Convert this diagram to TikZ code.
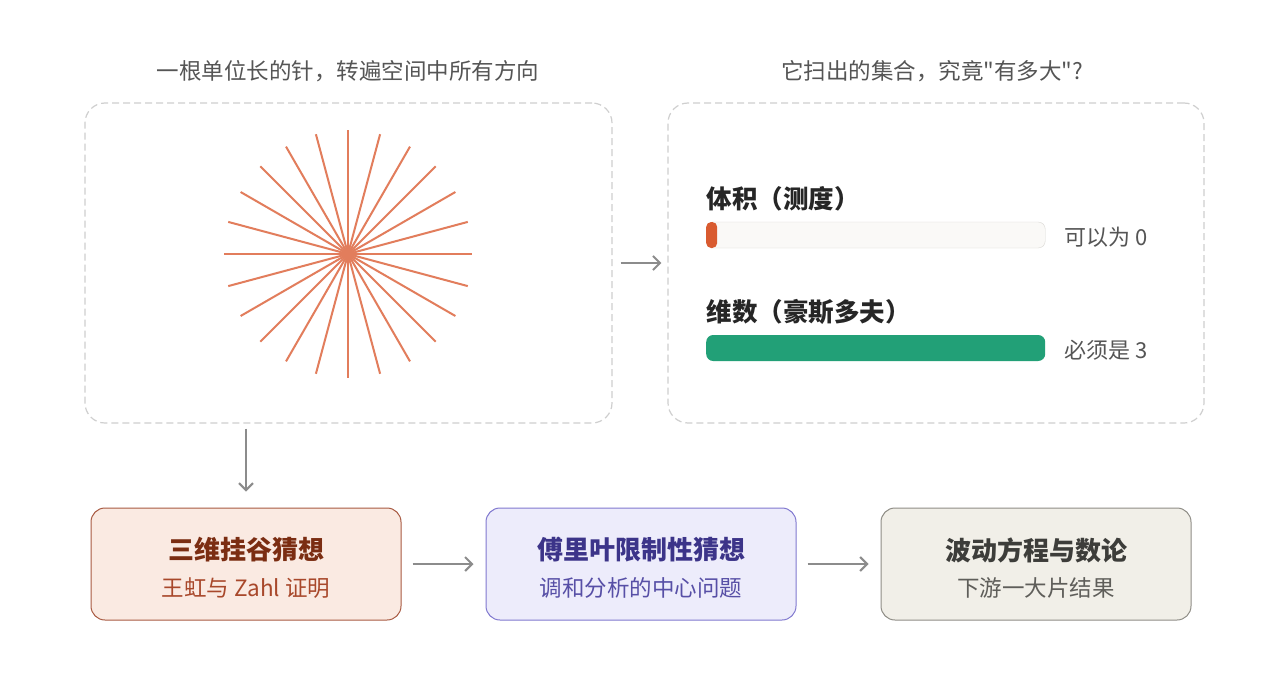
\documentclass[tikz,border=0pt]{standalone}
\usepackage{fontspec}
\setmainfont{Noto Sans CJK SC}
\usepackage{xcolor}
\usepackage{tikz}
\usetikzlibrary{arrows.meta,positioning}
\definecolor{rayorange}{HTML}{E27D5C}
\definecolor{flowgray}{HTML}{8C8C8C}
\definecolor{dashgray}{HTML}{CFCFCF}
\definecolor{capgray}{HTML}{555555}
\definecolor{trackfill}{HTML}{FAF9F7}
\definecolor{trackline}{HTML}{D9D7D3}
\definecolor{volred}{HTML}{D95B30}
\definecolor{dimgreen}{HTML}{22A077}
\definecolor{kkfill}{HTML}{FAEAE2}
\definecolor{kkline}{HTML}{A85A42}
\definecolor{kktext}{HTML}{7B2D12}
\definecolor{kksub}{HTML}{A8482B}
\definecolor{frfill}{HTML}{EDECFB}
\definecolor{frline}{HTML}{8078CF}
\definecolor{frtext}{HTML}{3C3489}
\definecolor{frsub}{HTML}{574FA6}
\definecolor{dsfill}{HTML}{F1EFE8}
\definecolor{dsline}{HTML}{8F8D86}
\definecolor{dstext}{HTML}{3D3D3A}
\definecolor{dssub}{HTML}{5F5E5A}
\newcommand{\fsz}[1]{\fontsize{#1}{#1}\selectfont}

\begin{document}
\begin{tikzpicture}[x=1pt,y=-1pt,
    panel/.style={draw=dashgray,line width=1.2pt,dash pattern=on 7pt off 4pt,rounded corners=20pt,
                  minimum width=#1,minimum height=320pt,inner sep=0pt},
    caption/.style={text=capgray,font=\fsz{22.5}},
    ray/.style={rayorange,line width=2pt},
    flow/.style={flowgray,line width=2pt,-{Straight Barb[length=7pt,width=14pt,line width=2pt]}},
    track/.style={anchor=west,minimum width=339pt,minimum height=26pt,inner sep=0pt,rounded corners=7pt},
    barlabel/.style={anchor=west,text=black!85,font=\fsz{25.5}\bfseries},
    barnote/.style={anchor=west,text=capgray,font=\fsz{22}},
    stage/.style={draw=#1line,fill=#1fill,line width=1pt,rounded corners=14pt,
                  minimum width=310pt,minimum height=112pt,inner sep=0pt},
  ]
  \useasboundingbox[fill=white] (0,0) rectangle (1280,696);
  % top row: the needle and what it sweeps out
  \node[caption] (lcap) at (348,71) {一根单位长的针，转遍空间中所有方向};
  \node[caption] (rcap) at (932,71) {它扫出的集合，究竟\textquotedbl 有多大\textquotedbl ?};
  \node[panel=527pt] (needle) at (348.5,263) {};
  \node[panel=536pt] (sizes) at (936,263) {};
  \coordinate (hub) at (348,254);
  \foreach \a in {0,15,...,345}
    \draw[ray] (hub) -- ++(\a:124);
  % volume vs. dimension
  \node[barlabel] (vollab) at (703,199) {体积（测度）};
  \node[track,draw=trackline,fill=trackfill] (voltrack) at (706,235) {};
  \node[track,fill=volred,minimum width=11pt,rounded corners=5pt] (volbar) at (voltrack.west) {};
  \node[barnote] (volnote) at (1061,237) {可以为 0};
  \node[barlabel] (dimlab) at (703,312) {维数（豪斯多夫）};
  \node[track,fill=dimgreen] (dimbar) at (706,348) {};
  \node[barnote] (dimnote) at (1061,350) {必须是 3};
  % bottom row: the chain of consequences
  \node[stage=kk] (kakeya) at (246,564) {};
  \node[stage=fr] (fourier) at (641,564) {};
  \node[stage=ds] (downstream) at (1036,564) {};
  \node[text=kktext,font=\fsz{26}\bfseries] (kakeya-t) at ([yshift=14pt]kakeya.center) {三维挂谷猜想};
  \node[text=kksub,font=\fsz{22.5}] (kakeya-s) at ([yshift=-24pt]kakeya.center) {王虹与 Zahl 证明};
  \node[text=frtext,font=\fsz{26}\bfseries] (fourier-t) at ([yshift=14pt]fourier.center) {傅里叶限制性猜想};
  \node[text=frsub,font=\fsz{22.5}] (fourier-s) at ([yshift=-24pt]fourier.center) {调和分析的中心问题};
  \node[text=dstext,font=\fsz{26}\bfseries] (downstream-t) at ([yshift=14pt]downstream.center) {波动方程与数论};
  \node[text=dssub,font=\fsz{22.5}] (downstream-s) at ([yshift=-24pt]downstream.center) {下游一大片结果};
  % arrows
  \draw[flow,shorten <=8pt,shorten >=6pt] (needle) -- (sizes);
  \draw[flow,shorten <=5pt,shorten >=16pt] (kakeya.north |- needle.south) -- (kakeya.north);
  \draw[flow,shorten <=11pt,shorten >=12pt] (kakeya) -- (fourier);
  \draw[flow,shorten <=11pt,shorten >=12pt] (fourier) -- (downstream);
\end{tikzpicture}
\end{document}
